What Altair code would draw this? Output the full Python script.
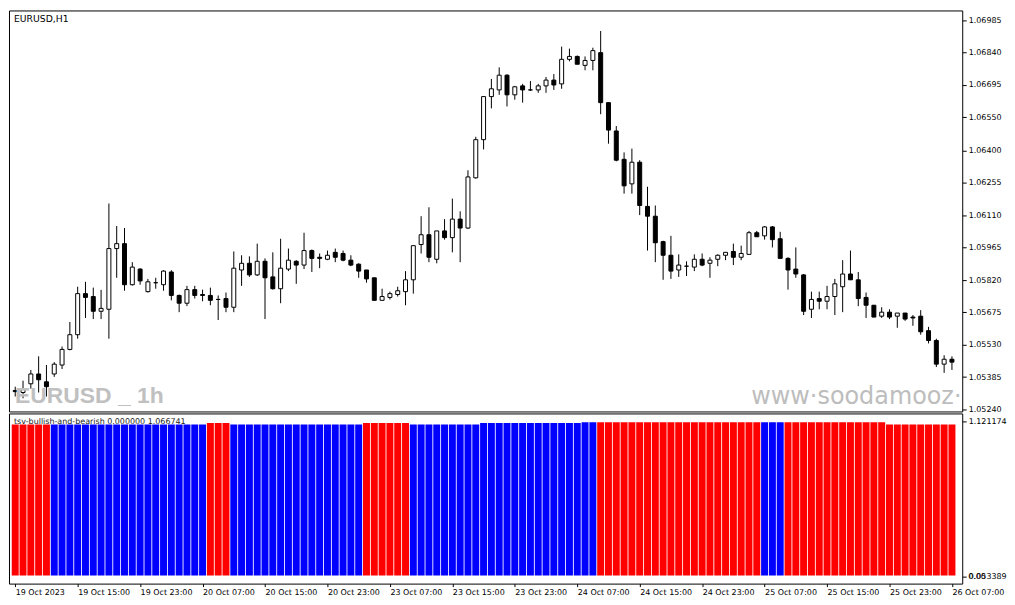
import altair as alt
import pandas as pd

# ---------------- data (EURUSD H1, 19 Oct 07:00 -> 26 Oct 07:00) ----------------
opens = [1.05325, 1.05316, 1.05355, 1.05399, 1.05364, 1.05399, 1.05439, 1.05509, 1.05575, 1.05759,
         1.05746, 1.05680, 1.05689, 1.05961, 1.05983, 1.05799, 1.05869, 1.05768, 1.05808, 1.05799,
         1.05856, 1.05751, 1.05716, 1.05777, 1.05755, 1.05751, 1.05733, 1.05737, 1.05698, 1.05865,
         1.05895, 1.05843, 1.05904, 1.05834, 1.05781, 1.05869, 1.05904, 1.05887, 1.05952, 1.05922,
         1.05913, 1.05944, 1.05939, 1.05909, 1.05891, 1.05865, 1.05830, 1.05729, 1.05742, 1.05755,
         1.05768, 1.05821, 1.05979, 1.06023, 1.05913, 1.06040, 1.06010, 1.06093, 1.06053, 1.06278,
         1.06449, 1.06642, 1.06672, 1.06738, 1.06650, 1.06690, 1.06672, 1.06672, 1.06690, 1.06716,
         1.06699, 1.06809, 1.06822, 1.06782, 1.06804, 1.06839, 1.06615, 1.06488, 1.06361, 1.06251,
         1.06348, 1.06150, 1.06106, 1.05992, 1.05931, 1.05865, 1.05882, 1.05878, 1.05913, 1.05895,
         1.05913, 1.05931, 1.05948, 1.05922, 1.05935, 1.06032, 1.06018, 1.06058, 1.06005, 1.05917,
         1.05869, 1.05843, 1.05689, 1.05737, 1.05725, 1.05746, 1.05790, 1.05847, 1.05821, 1.05742,
         1.05707, 1.05658, 1.05676, 1.05658, 1.05672, 1.05654, 1.05658, 1.05593, 1.05549, 1.05443,
         1.05465]
highs = [1.05342, 1.05369, 1.05417, 1.05478, 1.05439, 1.05452, 1.05522, 1.05632, 1.05790, 1.05812,
         1.05786, 1.05776, 1.06163, 1.06062, 1.06053, 1.05900, 1.05873, 1.05825, 1.05830, 1.05864,
         1.05864, 1.05755, 1.05794, 1.05794, 1.05777, 1.05786, 1.05751, 1.05764, 1.05948, 1.05931,
         1.05926, 1.05983, 1.05917, 1.05944, 1.06005, 1.05961, 1.05909, 1.06032, 1.05957, 1.05939,
         1.05952, 1.05961, 1.05952, 1.05931, 1.05895, 1.05865, 1.05830, 1.05781, 1.05768, 1.05790,
         1.05860, 1.05974, 1.06106, 1.06146, 1.06040, 1.06093, 1.06185, 1.06128, 1.06312, 1.06462,
         1.06642, 1.06721, 1.06773, 1.06742, 1.06690, 1.06699, 1.06712, 1.06699, 1.06730, 1.06743,
         1.06866, 1.06857, 1.06826, 1.06822, 1.06861, 1.06936, 1.06615, 1.06510, 1.06392, 1.06409,
         1.06357, 1.06238, 1.06154, 1.05996, 1.06018, 1.05935, 1.05904, 1.05935, 1.05939, 1.05922,
         1.05935, 1.05944, 1.05983, 1.05974, 1.06040, 1.06040, 1.06062, 1.06062, 1.06036, 1.05922,
         1.05966, 1.05847, 1.05768, 1.05768, 1.05794, 1.05825, 1.05909, 1.05952, 1.05856, 1.05764,
         1.05707, 1.05698, 1.05689, 1.05672, 1.05672, 1.05663, 1.05685, 1.05610, 1.05557, 1.05483,
         1.05478]
lows = [1.05298, 1.05290, 1.05333, 1.05316, 1.05298, 1.05386, 1.05421, 1.05505, 1.05557, 1.05650,
        1.05645, 1.05645, 1.05557, 1.05830, 1.05772, 1.05795, 1.05799, 1.05764, 1.05781, 1.05772,
        1.05729, 1.05676, 1.05703, 1.05737, 1.05725, 1.05707, 1.05641, 1.05676, 1.05676, 1.05794,
        1.05834, 1.05838, 1.05645, 1.05777, 1.05716, 1.05860, 1.05803, 1.05869, 1.05856, 1.05873,
        1.05909, 1.05900, 1.05904, 1.05882, 1.05830, 1.05808, 1.05729, 1.05729, 1.05733, 1.05746,
        1.05707, 1.05759, 1.05939, 1.05900, 1.05895, 1.06001, 1.05944, 1.05900, 1.06049, 1.06274,
        1.06405, 1.06589, 1.06650, 1.06598, 1.06628, 1.06615, 1.06668, 1.06659, 1.06659, 1.06672,
        1.06677, 1.06800, 1.06787, 1.06760, 1.06760, 1.06563, 1.06431, 1.06352, 1.06207, 1.06207,
        1.06111, 1.05952, 1.05900, 1.05821, 1.05825, 1.05834, 1.05838, 1.05860, 1.05882, 1.05830,
        1.05882, 1.05909, 1.05887, 1.05909, 1.05935, 1.06014, 1.06001, 1.05966, 1.05917, 1.05777,
        1.05830, 1.05663, 1.05650, 1.05689, 1.05689, 1.05663, 1.05676, 1.05821, 1.05703, 1.05650,
        1.05654, 1.05650, 1.05645, 1.05606, 1.05637, 1.05615, 1.05575, 1.05536, 1.05430, 1.05404,
        1.05417]
closes = [1.05320, 1.05333, 1.05399, 1.05373, 1.05342, 1.05443, 1.05509, 1.05575, 1.05759, 1.05742,
          1.05680, 1.05693, 1.05961, 1.05983, 1.05799, 1.05878, 1.05816, 1.05812, 1.05808, 1.05860,
          1.05751, 1.05716, 1.05777, 1.05751, 1.05751, 1.05729, 1.05733, 1.05698, 1.05873, 1.05895,
          1.05843, 1.05904, 1.05830, 1.05781, 1.05873, 1.05909, 1.05887, 1.05952, 1.05917, 1.05917,
          1.05931, 1.05922, 1.05909, 1.05887, 1.05860, 1.05825, 1.05729, 1.05746, 1.05759, 1.05772,
          1.05821, 1.05974, 1.06023, 1.05922, 1.06040, 1.06010, 1.06093, 1.06053, 1.06282, 1.06449,
          1.06642, 1.06677, 1.06738, 1.06650, 1.06686, 1.06672, 1.06672, 1.06690, 1.06716, 1.06694,
          1.06809, 1.06822, 1.06787, 1.06804, 1.06848, 1.06615, 1.06492, 1.06357, 1.06242, 1.06348,
          1.06154, 1.06106, 1.05987, 1.05931, 1.05860, 1.05887, 1.05882, 1.05913, 1.05887, 1.05909,
          1.05931, 1.05944, 1.05922, 1.05939, 1.06032, 1.06014, 1.06058, 1.06001, 1.05917, 1.05865,
          1.05847, 1.05680, 1.05733, 1.05725, 1.05746, 1.05803, 1.05847, 1.05821, 1.05737, 1.05707,
          1.05654, 1.05676, 1.05654, 1.05672, 1.05645, 1.05650, 1.05588, 1.05549, 1.05443, 1.05465,
          1.05452]

time_labels = ["19 Oct 2023", "19 Oct 15:00", "19 Oct 23:00", "20 Oct 07:00", "20 Oct 15:00",
               "20 Oct 23:00", "23 Oct 07:00", "23 Oct 15:00", "23 Oct 23:00", "24 Oct 07:00",
               "24 Oct 15:00", "24 Oct 23:00", "25 Oct 07:00", "25 Oct 15:00", "25 Oct 23:00",
               "26 Oct 07:00"]
label_every = 8

price_ticks = [1.06985, 1.06840, 1.06695, 1.06550, 1.06400, 1.06255, 1.06110,
               1.05965, 1.05820, 1.05675, 1.05530, 1.05385, 1.05240]
price_range = [1.05231, 1.07028]

# indicator histogram: (direction, number of bars) and (bar top value, number of bars)
hist_dir_runs = [("bear", 5), ("bull", 20), ("bear", 3), ("bull", 17), ("bear", 6),
                 ("bull", 24), ("bear", 21), ("bull", 3), ("bear", 22)]
hist_top_runs = [(1.0987, 25), (1.1075, 3), (1.0987, 17), (1.1075, 6), (1.0987, 9),
                 (1.1075, 13), (1.1130, 39), (1.0987, 9)]
hist_base = 0.064
ind_ticks = [0.053389, 1.121174]
ind_range = [0.0077, 1.1737]
ind_zero_label = "0.00"

chart_title = "EURUSD,H1"
ind_title = "tsv-bullish-and-bearish 0.000000 1.066741"
watermark_left = "EURUSD _ 1h"
watermark_right = "www\u00b7soodamooz\u00b7com"

# ---------------- tables ----------------
n = len(opens)
df = pd.DataFrame({"i": list(range(n)), "open": opens, "high": highs,
                   "low": lows, "close": closes})
hist_dir = [d for d, k in hist_dir_runs for _ in range(k)]
hist_top = [v for v, k in hist_top_runs for _ in range(k)]
hdf = pd.DataFrame({"i": list(range(n)), "dir": hist_dir, "top": hist_top,
                    "base": [hist_base] * n})

# ---------------- layout ----------------
W = 958
H_MAIN = 403
H_IND = 171
FONT = "DejaVu Sans"

x_scale = alt.Scale(domain=[-0.16, 120.68], nice=False, zero=False)
y_main = alt.Scale(domain=price_range, nice=False, zero=False)
y_ind = alt.Scale(domain=ind_range, nice=False, zero=False)

price_axis = alt.Axis(orient="right", values=price_ticks, format=".5f", tickSize=4,
                      tickColor="black", labelColor="black", labelFont=FONT,
                      labelFontSize=8, labelPadding=2, domain=False, grid=False,
                      title=None)

base = alt.Chart(df)
wicks = base.mark_rule(color="black", strokeWidth=1).encode(
    x=alt.X("i:Q", scale=x_scale, axis=None),
    y=alt.Y("low:Q", scale=y_main, axis=price_axis),
    y2="high:Q",
)
bodies = base.mark_bar(size=4, stroke="black", strokeWidth=1).encode(
    x=alt.X("i:Q", scale=x_scale, axis=None),
    y=alt.Y("open:Q", scale=y_main, axis=price_axis),
    y2="close:Q",
    fill=alt.when(alt.datum.close > alt.datum.open)
           .then(alt.value("white")).otherwise(alt.value("black")),
)

wm_left = alt.Chart(pd.DataFrame({"t": [watermark_left]})).mark_text(
    align="left", baseline="alphabetic", font="Liberation Sans Narrow, Liberation Sans",
    fontSize=23, fontWeight="bold", color="#c0c0c0"
).encode(x=alt.value(6), y=alt.value(394), text="t:N")

wm_right = alt.Chart(pd.DataFrame({"t": [watermark_right]})).mark_text(
    align="left", baseline="alphabetic", font=FONT, fontSize=24,
    color="#bdbdbd", clip=True
).encode(x=alt.value(746), y=alt.value(396), text="t:N")

title_main = alt.Chart(pd.DataFrame({"t": [chart_title]})).mark_text(
    align="left", baseline="middle", font=FONT, fontSize=9.3, color="black"
).encode(x=alt.value(5), y=alt.value(9), text="t:N")

main = alt.layer(wicks, bodies, wm_left, wm_right, title_main).properties(
    width=W, height=H_MAIN)

label_array = "[" + ",".join("'" + s + "'" for s in time_labels) + "]"
time_axis = alt.Axis(values=list(range(0, n, label_every)),
                     labelExpr=label_array + "[round(datum.value / " + str(label_every) + ")]",
                     tickSize=3, tickColor="black", labelColor="black", labelFont=FONT,
                     labelFontSize=8, labelAlign="left", labelPadding=2,
                     labelFlush=False, labelOverlap=False, domain=False, grid=False,
                     title=None)
ind_axis = alt.Axis(orient="right", values=ind_ticks, format=".6f", tickSize=4,
                    tickColor="black", labelColor="black", labelFont=FONT,
                    labelFontSize=8, labelPadding=2, domain=False, grid=False,
                    title=None)

bars = alt.Chart(hdf).mark_bar(size=7).encode(
    x=alt.X("i:Q", scale=x_scale, axis=time_axis),
    y=alt.Y("base:Q", scale=y_ind, axis=ind_axis),
    y2="top:Q",
    color=alt.Color("dir:N", scale=alt.Scale(domain=["bear", "bull"],
                                             range=["#ff0000", "#0000ff"]),
                    legend=None),
)

ind_title_txt = alt.Chart(pd.DataFrame({"t": [ind_title]})).mark_text(
    align="left", baseline="middle", font=FONT, fontSize=8, color="#202020"
).encode(x=alt.value(5), y=alt.value(8.7), text="t:N")

zero_txt = alt.Chart(pd.DataFrame({"t": [ind_zero_label]})).mark_text(
    align="left", baseline="middle", font=FONT, fontSize=8, color="black"
).encode(x=alt.value(W + 6), y=alt.Y(datum=ind_ticks[0], scale=y_ind, axis=ind_axis),
         text="t:N")

ind = alt.layer(bars, ind_title_txt, zero_txt).properties(width=W, height=H_IND)

chart = alt.vconcat(main, ind, spacing=2, bounds="flush").properties(
    padding=0, background="white"
).configure_view(stroke="black", strokeWidth=1)

chart.save("out.html", embed_options={"renderer": "svg", "actions": False})
